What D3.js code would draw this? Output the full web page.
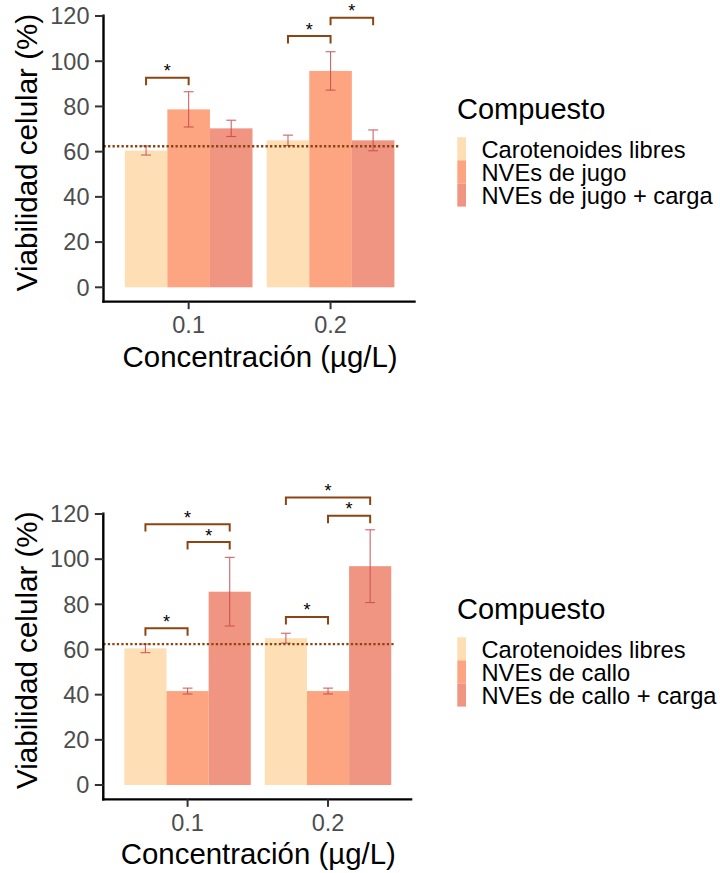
<!DOCTYPE html>
<html>
<head>
<meta charset="utf-8">
<script src="https://cdn.jsdelivr.net/npm/d3@7/dist/d3.min.js"></script>
<style>
  html, body { margin: 0; padding: 0; background: #ffffff; }
  svg { display: block; font-family: "Liberation Sans", Arial, sans-serif; }
</style>
</head>
<body>
<svg id="chart" width="720" height="873"></svg>
<script>
// Concentraciones (eje x)
const concentraciones = ["0.1", "0.2"];
const yTicks = [0, 20, 40, 60, 80, 100, 120];

// Compuestos de cada panel
const compuestosJugo = ["Carotenoides libres", "NVEs de jugo", "NVEs de jugo + carga"];
const compuestosCallo = ["Carotenoides libres", "NVEs de callo", "NVEs de callo + carga"];
const colores = ["#FEDEB4", "#FDA481", "#F09581"];

// Viabilidad media (%) y desviación: una fila por compuesto, una columna por concentración
const mediaJugo = [[60.5, 65.0], [78.7, 95.7], [70.3, 65.0]];
const desvJugo = [[2.0, 2.3], [7.8, 8.5], [3.6, 4.6]];
const mediaCallo = [[60.5, 65.0], [41.6, 41.6], [85.6, 96.9]];
const desvCallo = [[1.9, 2.2], [1.3, 1.3], [15.2, 16.1]];

// Viabilidad del control (línea punteada)
const control = 62.4;

// Comparaciones significativas: concentración, compuesto a, compuesto b, altura del corchete
const signifJugo = [
  [0, 0, 1, 92.7],
  [1, 0, 1, 111.1],
  [1, 1, 2, 119.2]
];
const signifCallo = [
  [0, 0, 1, 69.4],
  [0, 0, 2, 115.5],
  [0, 1, 2, 107.6],
  [1, 0, 1, 74.4],
  [1, 0, 2, 127.3],
  [1, 1, 2, 119.2]
];

const svg = d3.select("#chart");

function panel(cfg) {
  const g = svg.append("g");
  const y = d3.scaleLinear().domain([0, 120]).range([cfg.y0, cfg.y120]);
  const step = (cfg.right - cfg.left) / 2.2;
  // posición continua de la escala discreta (expansión de 0.6 a cada lado)
  const xPos = p => cfg.left + (p - 0.4) * step;
  const barW = 0.3 * step;
  const xCentro = (c, k) => xPos(c + 1 + (k - 1) * 0.3);

  // barras
  cfg.compuestos.forEach((comp, k) => {
    concentraciones.forEach((conc, c) => {
      const v = cfg.media[k][c];
      g.append("rect")
        .attr("x", xCentro(c, k) - barW / 2)
        .attr("width", barW)
        .attr("y", y(v))
        .attr("height", y(0) - y(v))
        .attr("fill", colores[k]);
    });
  });

  // barras de error
  const cap = 0.035 * step;
  cfg.compuestos.forEach((comp, k) => {
    concentraciones.forEach((conc, c) => {
      const m = cfg.media[k][c], s = cfg.desv[k][c];
      const cx = xCentro(c, k);
      const eg = g.append("g").attr("stroke", "#C9494F").attr("stroke-width", 1.1).attr("opacity", 0.85);
      eg.append("line").attr("x1", cx).attr("x2", cx).attr("y1", y(m - s)).attr("y2", y(m + s));
      eg.append("line").attr("x1", cx - cap).attr("x2", cx + cap).attr("y1", y(m - s)).attr("y2", y(m - s));
      eg.append("line").attr("x1", cx - cap).attr("x2", cx + cap).attr("y1", y(m + s)).attr("y2", y(m + s));
    });
  });

  // línea del control
  g.append("line")
    .attr("x1", xPos(0.4)).attr("x2", xPos(2.48))
    .attr("y1", y(control)).attr("y2", y(control))
    .attr("stroke", "#8B4513").attr("stroke-width", 2.4)
    .attr("stroke-dasharray", "2.3,2.2");

  // corchetes de significancia
  const tip = 3.3;
  cfg.signif.forEach(([c, a, b, h]) => {
    const xa = xCentro(c, a), xb = xCentro(c, b);
    g.append("path")
      .attr("d", `M${xa},${y(h - tip)}V${y(h)}H${xb}V${y(h - tip)}`)
      .attr("fill", "none").attr("stroke", "#8B4513").attr("stroke-width", 2);
    g.append("text")
      .attr("x", (xa + xb) / 2).attr("y", y(h) - 0.5)
      .attr("text-anchor", "middle")
      .attr("font-size", 18).attr("fill", "#000")
      .text("*");
  });

  // ejes
  const yBottom = y(-6.35), yTop = y(120.7);
  g.append("line").attr("x1", cfg.left).attr("x2", cfg.left)
    .attr("y1", yTop).attr("y2", yBottom + 1.2)
    .attr("stroke", "#000").attr("stroke-width", 2.4);
  g.append("line").attr("x1", cfg.left - 1.2).attr("x2", cfg.right)
    .attr("y1", yBottom).attr("y2", yBottom)
    .attr("stroke", "#000").attr("stroke-width", 2.4);

  yTicks.forEach(t => {
    g.append("line").attr("x1", cfg.left - 8.5).attr("x2", cfg.left)
      .attr("y1", y(t)).attr("y2", y(t))
      .attr("stroke", "#333").attr("stroke-width", 2);
    g.append("text").attr("x", cfg.left - 14).attr("y", y(t) + 8.3)
      .attr("text-anchor", "end").attr("font-size", 23.5).attr("fill", "#4D4D4D")
      .text(t);
  });
  concentraciones.forEach((conc, c) => {
    const cx = xPos(c + 1);
    g.append("line").attr("x1", cx).attr("x2", cx)
      .attr("y1", yBottom).attr("y2", yBottom + 7.5)
      .attr("stroke", "#333").attr("stroke-width", 2);
    g.append("text").attr("x", cx).attr("y", yBottom + 31.5)
      .attr("text-anchor", "middle").attr("font-size", 23.5).attr("fill", "#4D4D4D")
      .text(conc);
  });

  // títulos de ejes
  g.append("text")
    .attr("transform", `translate(36.5,${cfg.y0 - 134.8}) rotate(-90)`)
    .attr("text-anchor", "middle").attr("font-size", 29.6).attr("fill", "#000")
    .text("Viabilidad celular (%)");
  g.append("text")
    .attr("x", (cfg.left + cfg.right) / 2 + 0.5).attr("y", yBottom + 65)
    .attr("text-anchor", "middle").attr("font-size", 29.4).attr("fill", "#000")
    .text("Concentración (µg/L)");

  // leyenda
  const lg = g.append("g");
  lg.append("text").attr("x", 457).attr("y", cfg.legendTop)
    .attr("font-size", 29).attr("fill", "#000").text("Compuesto");
  cfg.compuestos.forEach((comp, k) => {
    const ky = cfg.legendTop + 18.3 + k * 23.1;
    lg.append("rect").attr("x", 457.3).attr("y", ky).attr("width", 8.7).attr("height", 23.1)
      .attr("fill", colores[k]);
    lg.append("text").attr("x", 481.5).attr("y", ky + 20.2)
      .attr("font-size", 23.7).attr("fill", "#000").text(comp);
  });
}

panel({
  compuestos: compuestosJugo, media: mediaJugo, desv: desvJugo, signif: signifJugo,
  left: 103.5, right: 415.7, y0: 287.3, y120: 16, legendTop: 119
});
panel({
  compuestos: compuestosCallo, media: mediaCallo, desv: desvCallo, signif: signifCallo,
  left: 103.3, right: 412.3, y0: 785, y120: 514, legendTop: 619
});
</script>
</body>
</html>
